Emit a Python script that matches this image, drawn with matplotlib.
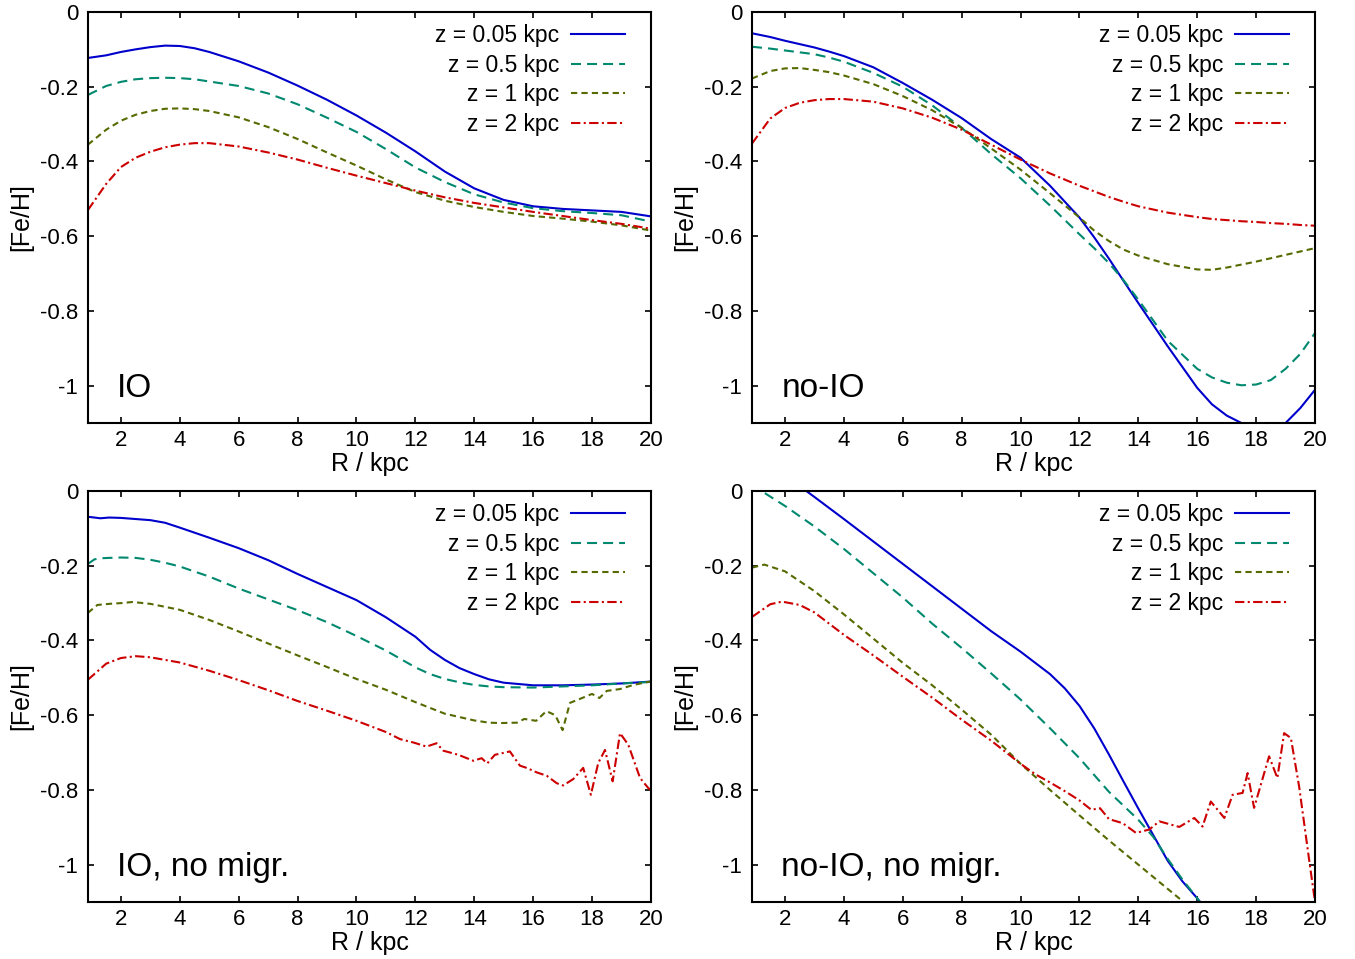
import matplotlib
matplotlib.use("Agg")
import matplotlib.pyplot as plt

plt.rcParams['font.family'] = ['Liberation Sans', 'DejaVu Sans']
plt.rcParams['axes.unicode_minus'] = False

# ---- data: R in kpc, [Fe/H] in dex ----
labels = ["z = 0.05 kpc", "z = 0.5 kpc", "z = 1 kpc", "z = 2 kpc"]
panel_names = ["IO", "no-IO", "IO, no migr.", "no-IO, no migr."]

# panel 1: IO
r_io = [0.88, 1.5, 2, 2.5, 3, 3.5, 4, 4.5, 5, 6, 7, 8, 9, 10, 11, 12, 13, 14, 15, 16, 17, 18, 19, 20]
io_z005 = [-0.123, -0.116, -0.107, -0.100, -0.094, -0.090, -0.091, -0.097, -0.107, -0.132, -0.162, -0.197,
           -0.235, -0.277, -0.323, -0.373, -0.427, -0.472, -0.503, -0.520, -0.527, -0.531, -0.535, -0.547]
io_z05 = [-0.222, -0.198, -0.187, -0.180, -0.177, -0.176, -0.177, -0.180, -0.186, -0.198, -0.218, -0.247,
          -0.283, -0.321, -0.367, -0.416, -0.455, -0.488, -0.510, -0.525, -0.533, -0.538, -0.544, -0.561]
io_z1 = [-0.355, -0.315, -0.291, -0.275, -0.265, -0.259, -0.258, -0.260, -0.265, -0.282, -0.308, -0.340,
         -0.376, -0.411, -0.448, -0.482, -0.505, -0.522, -0.535, -0.546, -0.553, -0.561, -0.571, -0.585]
io_z2 = [-0.530, -0.460, -0.415, -0.390, -0.374, -0.362, -0.355, -0.351, -0.351, -0.360, -0.376, -0.395,
         -0.417, -0.438, -0.458, -0.478, -0.496, -0.511, -0.523, -0.535, -0.546, -0.557, -0.567, -0.580]

# panel 2: no-IO
r_noio = [0.88, 1.5, 2, 2.5, 3, 3.5, 4, 5, 6, 7, 8, 9, 10, 11, 12, 12.5, 13, 13.5, 14, 15, 16, 16.5, 17, 17.5,
          18, 18.5, 19, 19.5, 20]
noio_z005 = [-0.057, -0.067, -0.077, -0.086, -0.095, -0.106, -0.118, -0.148, -0.190, -0.235, -0.284, -0.340,
             -0.390, -0.465, -0.550, -0.603, -0.660, -0.720, -0.779, -0.895, -1.006, -1.050, -1.080, -1.100,
             -1.118, -1.120, -1.100, -1.060, -1.011]
noio_z05 = [-0.093, -0.098, -0.103, -0.108, -0.113, -0.122, -0.133, -0.163, -0.200, -0.250, -0.310, -0.380,
            -0.445, -0.518, -0.595, -0.632, -0.672, -0.718, -0.770, -0.880, -0.955, -0.978, -0.992, -0.999,
            -0.997, -0.985, -0.955, -0.915, -0.859]
noio_z1 = [-0.178, -0.158, -0.151, -0.150, -0.155, -0.161, -0.170, -0.193, -0.225, -0.263, -0.310, -0.365,
           -0.422, -0.485, -0.550, -0.585, -0.613, -0.636, -0.652, -0.675, -0.689, -0.690, -0.684, -0.676,
           -0.668, -0.659, -0.650, -0.641, -0.632]
noio_z2 = [-0.352, -0.285, -0.257, -0.243, -0.236, -0.233, -0.233, -0.240, -0.258, -0.283, -0.315, -0.355,
           -0.395, -0.432, -0.465, -0.480, -0.495, -0.508, -0.520, -0.537, -0.549, -0.554, -0.557, -0.560,
           -0.562, -0.565, -0.567, -0.570, -0.572]

# panel 3: IO, no migration
r_iom = [0.88, 1.1, 1.3, 1.6, 2, 2.5, 3, 3.5, 4, 5, 6, 7, 8, 9, 10, 11, 12, 12.5, 13, 13.5, 14, 14.5, 15, 16, 17, 18, 19, 20]
iom_z005 = [-0.069, -0.071, -0.073, -0.071, -0.072, -0.075, -0.078, -0.085, -0.098, -0.125, -0.153, -0.185,
            -0.222, -0.257, -0.292, -0.338, -0.390, -0.425, -0.452, -0.474, -0.490, -0.504, -0.513, -0.520,
            -0.520, -0.518, -0.515, -0.510]
iom_z05 = [-0.195, -0.183, -0.180, -0.179, -0.178, -0.179, -0.184, -0.192, -0.202, -0.229, -0.261, -0.290,
           -0.319, -0.351, -0.388, -0.427, -0.472, -0.490, -0.503, -0.512, -0.519, -0.523, -0.525, -0.526,
           -0.523, -0.520, -0.515, -0.511]
r_iom_z1 = [0.88, 1.2, 1.6, 2, 2.4, 3, 4, 5, 6, 7, 8, 9, 10, 11, 12, 13, 14, 14.5, 14.9, 15.45, 15.7, 16.1,
            16.45, 16.75, 17.0, 17.25, 17.6, 18.0, 18.25, 18.5, 18.95, 19.4, 19.9, 20]
iom_z1 = [-0.326, -0.305, -0.302, -0.300, -0.297, -0.302, -0.318, -0.345, -0.376, -0.408, -0.440, -0.471,
          -0.503, -0.532, -0.565, -0.596, -0.614, -0.620, -0.621, -0.620, -0.610, -0.615, -0.589, -0.600,
          -0.640, -0.567, -0.556, -0.543, -0.554, -0.535, -0.530, -0.519, -0.511, -0.510]
r_iom_z2 = [0.88, 1.5, 2, 2.5, 3, 4, 5, 6, 7, 8, 9, 10, 10.5, 11, 11.48, 11.93, 12.38, 12.72, 12.95, 13.46,
            13.97, 14.25, 14.44, 14.7, 15.21, 15.55, 15.78, 16.12, 16.46, 16.8, 17.02, 17.36, 17.7, 17.96,
            18.21, 18.44, 18.7, 18.95, 19.23, 19.63, 19.91, 20]
iom_z2 = [-0.505, -0.462, -0.447, -0.442, -0.445, -0.459, -0.481, -0.506, -0.533, -0.562, -0.588, -0.615,
          -0.630, -0.645, -0.664, -0.673, -0.684, -0.675, -0.695, -0.706, -0.722, -0.715, -0.729, -0.706,
          -0.697, -0.735, -0.741, -0.753, -0.762, -0.782, -0.788, -0.771, -0.741, -0.813, -0.728, -0.693,
          -0.777, -0.648, -0.679, -0.768, -0.795, -0.800]

# panel 4: no-IO, no migration
r_noiom_z005 = [2.5, 3, 4, 5, 6, 7, 8, 9, 10, 11, 11.5, 12, 12.5, 13, 13.5, 14, 14.5, 15, 15.5, 16, 16.5]
noiom_z005 = [0.013, -0.016, -0.075, -0.135, -0.195, -0.255, -0.315, -0.375, -0.430, -0.490, -0.528, -0.575,
              -0.635, -0.705, -0.778, -0.850, -0.920, -0.990, -1.045, -1.090, -1.140]
r_noiom_z05 = [0.88, 1.2, 2, 3, 4, 5, 6, 7, 8, 9, 10, 11, 12, 13, 14, 14.5, 15, 15.5, 16, 16.5]
noiom_z05 = [0.020, 0.0, -0.040, -0.095, -0.155, -0.220, -0.285, -0.355, -0.420, -0.488, -0.558, -0.635,
             -0.715, -0.805, -0.880, -0.925, -0.985, -1.040, -1.090, -1.150]
r_noiom_z1 = [0.88, 1.3, 2, 3, 4, 5, 6, 7, 8, 9, 10, 11, 12, 13, 14, 15, 16]
noiom_z1 = [-0.205, -0.197, -0.215, -0.268, -0.330, -0.395, -0.460, -0.520, -0.585, -0.652, -0.730, -0.800,
            -0.868, -0.935, -1.000, -1.065, -1.130]
r_noiom_z2 = [0.88, 1.5, 1.9, 2.5, 3, 4, 5, 6, 7, 8, 9, 10, 10.5, 11, 11.5, 12, 12.4, 12.7, 13.0, 13.47,
              13.92, 14.37, 14.71, 15.39, 15.9, 16.18, 16.46, 16.92, 17.2, 17.54, 17.71, 17.93, 18.44,
              18.72, 18.95, 19.18, 19.46, 19.8, 20]
noiom_z2 = [-0.337, -0.303, -0.296, -0.305, -0.325, -0.385, -0.440, -0.497, -0.553, -0.612, -0.668, -0.730,
            -0.758, -0.780, -0.803, -0.828, -0.853, -0.849, -0.878, -0.889, -0.915, -0.906, -0.884, -0.899,
            -0.875, -0.898, -0.831, -0.875, -0.813, -0.808, -0.755, -0.848, -0.710, -0.768, -0.648, -0.661,
            -0.791, -0.987, -1.100]

xticks = [2, 4, 6, 8, 10, 12, 14, 16, 18, 20]
yticks = [0, -0.2, -0.4, -0.6, -0.8, -1]
ytick_labels = ["0", "-0.2", "-0.4", "-0.6", "-0.8", "-1"]

colors = ["#0000cc", "#00896f", "#556b00", "#cc0000"]
styles = ["-", (0, (4.8, 2.9)), (0, (3.0, 2.0)), (0, (4.5, 1.6, 1.0, 1.6))]


def draw_panel(ax, curves, name):
    # curves: list of (x, y) pairs, one per height z
    for (x, y), col, ls, lab in zip(curves, colors, styles, labels):
        ax.plot(x, y, color=col, linestyle=ls, lw=1.5, label=lab)
    ax.set_xlim(0.88, 20)
    ax.set_ylim(-1.1, 0)
    ax.set_xticks(xticks)
    ax.set_yticks(yticks)
    ax.set_yticklabels(ytick_labels)
    ax.tick_params(direction='in', length=4.5, width=1.2, top=True, right=True, labelsize=16)
    ax.tick_params(axis='x', pad=5)
    ax.tick_params(axis='y', pad=7)
    for s in ax.spines.values():
        s.set_linewidth(1.5)
    ax.set_xlabel("R / kpc", fontsize=18)
    ax.set_ylabel("[Fe/H]", fontsize=18)
    ax.xaxis.set_label_coords(0.5, -0.071)
    ax.yaxis.set_label_coords(-0.097, 0.5)
    ax.text(0.052, 0.083, name, transform=ax.transAxes, fontsize=24, ha='left', va='center')
    ax.legend(loc='upper right', bbox_to_anchor=(0.970, 0.993), borderaxespad=0, frameon=False,
              markerfirst=False, fontsize=16.5, handlelength=2.36, handletextpad=0.5, labelspacing=0.29)


fig = plt.figure(figsize=(13.55, 9.59), dpi=100)
W = 0.4155
H = 0.4286
ax1 = fig.add_axes([0.0649, 0.5589, W, H])
ax2 = fig.add_axes([0.5550, 0.5589, W, H])
ax3 = fig.add_axes([0.0649, 0.0594, W, H])
ax4 = fig.add_axes([0.5550, 0.0594, W, H])

draw_panel(ax1, [(r_io, io_z005), (r_io, io_z05), (r_io, io_z1), (r_io, io_z2)], panel_names[0])
draw_panel(ax2, [(r_noio, noio_z005), (r_noio, noio_z05), (r_noio, noio_z1), (r_noio, noio_z2)], panel_names[1])
draw_panel(ax3, [(r_iom, iom_z005), (r_iom, iom_z05), (r_iom_z1, iom_z1), (r_iom_z2, iom_z2)], panel_names[2])
draw_panel(ax4, [(r_noiom_z005, noiom_z005), (r_noiom_z05, noiom_z05), (r_noiom_z1, noiom_z1),
                 (r_noiom_z2, noiom_z2)], panel_names[3])

fig.savefig("out.png", dpi=100)
